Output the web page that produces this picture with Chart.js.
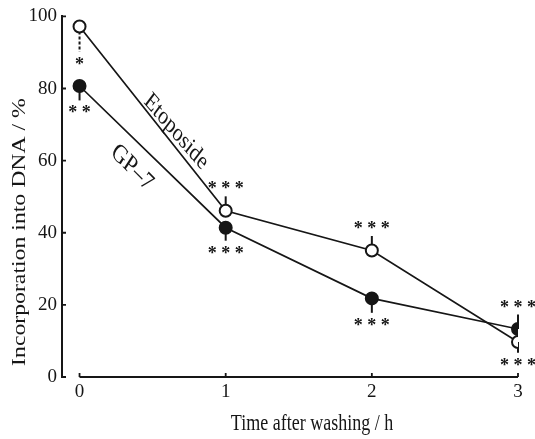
<!DOCTYPE html>
<html>
<head>
<meta charset="utf-8">
<script src="https://cdn.jsdelivr.net/npm/chart.js@4.4.1/dist/chart.umd.min.js"></script>
<style>
  html, body { margin: 0; padding: 0; background: #fff; }
  #wrap { width: 535px; height: 439px; }
</style>
</head>
<body>
<div id="wrap"><canvas id="grafico" width="535" height="439"></canvas></div>
<script>
// Datos
const horas = [0, 1, 2, 3];
const etoposide = [97.2, 46.1, 35.1, 9.7];
const gp7 = [80.7, 41.4, 21.8, 13.3];
const etoposideErr = [7, 4, 4, 3];
const gp7Err = [4, 3.6, 4, 4];
const etoposideSig = ['*', '***', '***', '***'];
const gp7Sig = ['**', '***', '***', '***'];
const yTicks = [0, 20, 40, 60, 80, 100];
const xTicks = [0, 1, 2, 3];

// Hacia dónde va cada barra de error (-1 abajo, 1 arriba)
const etoposideDir = [-1, 1, 1, -1];
const gp7Dir = [-1, -1, -1, 1];

const tinta = '#161616';
const fuente = '"Liberation Serif", "Times New Roman", serif';
const estirar = 1.25; // la figura escaneada está algo estirada en vertical

// Rótulos de las curvas (en coordenadas de datos)
const rotulos = [
    { texto: 'Etoposide', x: 0.66, y: 68, angulo: 43, size: 20 },
    { texto: 'GP–7', x: 0.36, y: 58, angulo: 39, size: 21 }
];

const puntos = arr => arr.map((v, i) => ({ x: horas[i], y: v }));

// Barras de error y asteriscos
const errorPlugin = {
    id: 'errores',
    beforeDatasetsDraw(chart) {
        const { ctx, scales: { x, y } } = chart;
        const series = [
            { vals: etoposide, err: etoposideErr, dir: etoposideDir, punteado: 0 },
            { vals: gp7, err: gp7Err, dir: gp7Dir, punteado: -1 }
        ];
        ctx.save();
        ctx.strokeStyle = tinta;
        ctx.lineWidth = 2;
        series.forEach(s => {
            s.vals.forEach((v, i) => {
                const px = x.getPixelForValue(horas[i]);
                ctx.setLineDash(i === s.punteado ? [3, 2] : []);
                ctx.beginPath();
                ctx.moveTo(px, y.getPixelForValue(v));
                ctx.lineTo(px, y.getPixelForValue(v + s.dir[i] * s.err[i]));
                ctx.stroke();
            });
        });
        ctx.restore();
    },
    afterDatasetsDraw(chart) {
        const { ctx, scales: { x, y } } = chart;
        const series = [
            { vals: etoposide, err: etoposideErr, dir: etoposideDir, sig: etoposideSig },
            { vals: gp7, err: gp7Err, dir: gp7Dir, sig: gp7Sig }
        ];
        ctx.save();
        ctx.fillStyle = tinta;
        ctx.font = 'bold 18px ' + fuente;
        ctx.textAlign = 'center';
        ctx.textBaseline = 'alphabetic';
        series.forEach(s => {
            s.vals.forEach((v, i) => {
                const px = x.getPixelForValue(horas[i]);
                const fin = y.getPixelForValue(v + s.dir[i] * s.err[i]);
                const cy = fin - s.dir[i] * 10;
                ctx.fillText(s.sig[i].split('').join(' '), px, cy + 8);
            });
        });

        // Rótulos de las curvas
        ctx.textBaseline = 'middle';
        rotulos.forEach(r => {
            ctx.save();
            ctx.font = r.size + 'px ' + fuente;
            ctx.translate(x.getPixelForValue(r.x), y.getPixelForValue(r.y));
            ctx.scale(1, estirar);
            ctx.rotate(r.angulo * Math.PI / 180);
            ctx.fillText(r.texto, 0, 0);
            ctx.restore();
        });
        ctx.restore();
    }
};

// Eje X (sólo de 0 a 3), marcas y títulos de los ejes
const ejesPlugin = {
    id: 'ejes',
    afterDraw(chart) {
        const { ctx, scales: { x, y } } = chart;
        const y0 = y.getPixelForValue(0);
        ctx.save();
        ctx.strokeStyle = tinta;
        ctx.lineWidth = 1.8;
        ctx.beginPath();
        ctx.moveTo(x.getPixelForValue(xTicks[0]), y0);
        ctx.lineTo(x.getPixelForValue(xTicks[xTicks.length - 1]), y0);
        xTicks.forEach(v => {
            const px = x.getPixelForValue(v);
            ctx.moveTo(px, y0);
            ctx.lineTo(px, y0 - 4);
        });
        yTicks.forEach(v => {
            const py = y.getPixelForValue(v);
            ctx.moveTo(chart.chartArea.left, py);
            ctx.lineTo(chart.chartArea.left + 4, py);
        });
        ctx.stroke();

        ctx.fillStyle = tinta;
        ctx.font = '18px ' + fuente;
        ctx.textAlign = 'center';
        ctx.textBaseline = 'middle';
        ctx.save();
        ctx.translate(312, 424);
        ctx.scale(1, estirar);
        ctx.fillText('Time after washing / h', 0, 0);
        ctx.restore();

        ctx.font = '19px ' + fuente;
        ctx.translate(20, 232);
        ctx.scale(1, estirar);
        ctx.rotate(-Math.PI / 2);
        ctx.fillText('Incorporation into DNA / %', 0, 0);
        ctx.restore();
    }
};

new Chart(document.getElementById('grafico'), {
    type: 'line',
    data: {
        datasets: [
            {
                label: 'Etoposide',
                data: puntos(etoposide),
                borderColor: tinta,
                borderWidth: 1.7,
                pointRadius: 6,
                pointBorderWidth: 2,
                pointBackgroundColor: '#ffffff',
                pointBorderColor: tinta
            },
            {
                label: 'GP-7',
                data: puntos(gp7),
                borderColor: tinta,
                borderWidth: 1.7,
                pointRadius: 6,
                pointBorderWidth: 2,
                pointBackgroundColor: tinta,
                pointBorderColor: tinta
            }
        ]
    },
    options: {
        responsive: false,
        animation: false,
        layout: { padding: { top: 15, right: 17, bottom: 0, left: 0 } },
        plugins: {
            legend: { display: false },
            tooltip: { enabled: false }
        },
        scales: {
            x: {
                type: 'linear',
                min: -0.12,
                max: 3,
                afterBuildTicks: scale => { scale.ticks = xTicks.map(v => ({ value: v })); },
                afterFit: scale => { scale.height = 62; },
                grid: { display: false, drawTicks: false },
                border: { display: false },
                ticks: {
                    color: tinta,
                    padding: 4,
                    font: { family: fuente, size: 19 },
                    maxRotation: 0
                }
            },
            y: {
                min: 0,
                max: 100,
                afterBuildTicks: scale => { scale.ticks = yTicks.map(v => ({ value: v })); },
                afterFit: scale => { scale.width = 62; },
                grid: { display: false, drawTicks: false },
                border: { display: true, color: tinta, width: 2 },
                ticks: {
                    color: tinta,
                    padding: 5,
                    font: { family: fuente, size: 19 }
                }
            }
        }
    },
    plugins: [errorPlugin, ejesPlugin]
});
</script>
</body>
</html>
